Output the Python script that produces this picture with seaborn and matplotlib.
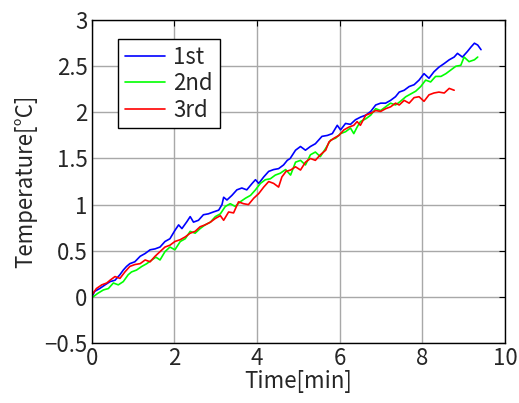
import numpy as np
import pandas as pd
import matplotlib
matplotlib.use('Agg')
import matplotlib.pyplot as plt
import seaborn as sns

# ---- data ----
t1 = [0.00, 0.07, 0.19, 0.32, 0.44, 0.56, 0.68, 0.76, 0.84, 0.92, 1.04, 1.17, 1.29, 1.41,
      1.53, 1.65, 1.77, 1.89, 2.01, 2.10, 2.18, 2.30, 2.38, 2.46, 2.58, 2.70, 2.82, 2.94,
      3.07, 3.15, 3.19, 3.27, 3.39, 3.51, 3.63, 3.75, 3.88, 3.96, 4.04, 4.16, 4.28, 4.40,
      4.52, 4.64, 4.73, 4.80, 4.93, 5.05, 5.17, 5.29, 5.41, 5.49, 5.57, 5.70, 5.82, 5.94,
      6.02, 6.14, 6.26, 6.38, 6.51, 6.63, 6.75, 6.87, 6.99, 7.11, 7.23, 7.35, 7.44, 7.56,
      7.68, 7.80, 7.92, 8.04, 8.16, 8.28, 8.40, 8.53, 8.65, 8.77, 8.85, 8.97, 9.09, 9.18,
      9.26, 9.34, 9.42]
v1 = [0.00, 0.06, 0.09, 0.13, 0.165, 0.18, 0.24, 0.29, 0.33, 0.36, 0.38, 0.44, 0.47, 0.51,
      0.52, 0.54, 0.60, 0.63, 0.72, 0.78, 0.74, 0.815, 0.87, 0.81, 0.83, 0.89, 0.90, 0.92,
      0.94, 1.00, 1.08, 1.05, 1.10, 1.16, 1.18, 1.16, 1.23, 1.27, 1.23, 1.30, 1.36, 1.38,
      1.39, 1.43, 1.48, 1.50, 1.59, 1.63, 1.59, 1.63, 1.66, 1.70, 1.74, 1.75, 1.77, 1.86,
      1.81, 1.88, 1.87, 1.92, 1.95, 1.97, 2.01, 2.08, 2.10, 2.10, 2.13, 2.17, 2.22, 2.24,
      2.28, 2.30, 2.35, 2.42, 2.37, 2.44, 2.49, 2.53, 2.57, 2.60, 2.64, 2.60, 2.66, 2.71,
      2.75, 2.73, 2.68]

t2 = [0.03, 0.15, 0.28, 0.40, 0.52, 0.64, 0.76, 0.88, 0.96, 1.08, 1.21, 1.33, 1.45, 1.55,
      1.65, 1.77, 1.89, 2.01, 2.14, 2.26, 2.38, 2.50, 2.62, 2.74, 2.87, 2.99, 3.11, 3.23,
      3.35, 3.47, 3.59, 3.72, 3.84, 3.96, 4.08, 4.20, 4.32, 4.44, 4.56, 4.69, 4.81, 4.93,
      5.05, 5.17, 5.29, 5.41, 5.53, 5.66, 5.78, 5.90, 6.02, 6.14, 6.26, 6.34, 6.42, 6.50,
      6.63, 6.75, 6.87, 6.99, 7.11, 7.23, 7.35, 7.47, 7.60, 7.72, 7.84, 7.96, 8.08, 8.20,
      8.32, 8.45, 8.57, 8.69, 8.81, 8.93, 9.01, 9.13, 9.26, 9.34]
v2 = [0.00, 0.04, 0.075, 0.09, 0.15, 0.13, 0.165, 0.24, 0.27, 0.29, 0.33, 0.36, 0.40, 0.43,
      0.40, 0.49, 0.54, 0.51, 0.60, 0.63, 0.71, 0.69, 0.74, 0.78, 0.81, 0.87, 0.90, 0.98,
      1.01, 0.98, 1.03, 1.07, 1.10, 1.16, 1.23, 1.27, 1.28, 1.32, 1.34, 1.38, 1.32, 1.46,
      1.48, 1.43, 1.54, 1.57, 1.52, 1.61, 1.70, 1.72, 1.77, 1.79, 1.83, 1.77, 1.84, 1.90,
      1.93, 1.97, 2.04, 2.02, 2.06, 2.10, 2.08, 2.12, 2.17, 2.20, 2.23, 2.28, 2.35, 2.33,
      2.39, 2.39, 2.42, 2.46, 2.50, 2.51, 2.60, 2.55, 2.57, 2.60]

t3 = [0.00, 0.11, 0.24, 0.36, 0.44, 0.56, 0.68, 0.80, 0.92, 1.04, 1.17, 1.29, 1.41, 1.53,
      1.65, 1.77, 1.89, 2.01, 2.14, 2.26, 2.38, 2.50, 2.62, 2.74, 2.87, 2.99, 3.11, 3.19,
      3.31, 3.43, 3.55, 3.67, 3.79, 3.92, 4.04, 4.16, 4.28, 4.40, 4.52, 4.60, 4.70, 4.81,
      4.93, 5.05, 5.17, 5.29, 5.41, 5.53, 5.66, 5.74, 5.86, 5.98, 6.10, 6.22, 6.34, 6.42,
      6.50, 6.63, 6.75, 6.87, 6.99, 7.11, 7.23, 7.35, 7.44, 7.56, 7.68, 7.80, 7.92, 8.04,
      8.16, 8.28, 8.40, 8.53, 8.65, 8.77]
v3 = [0.02, 0.09, 0.13, 0.15, 0.18, 0.22, 0.20, 0.27, 0.33, 0.35, 0.36, 0.40, 0.38, 0.44,
      0.49, 0.54, 0.56, 0.60, 0.62, 0.65, 0.69, 0.71, 0.76, 0.78, 0.81, 0.85, 0.88, 0.83,
      0.92, 0.91, 1.03, 1.01, 1.00, 1.07, 1.12, 1.19, 1.25, 1.23, 1.19, 1.30, 1.36, 1.375,
      1.41, 1.375, 1.46, 1.50, 1.48, 1.54, 1.59, 1.68, 1.72, 1.75, 1.81, 1.84, 1.86, 1.90,
      1.86, 1.97, 1.99, 2.02, 2.01, 2.04, 2.06, 2.10, 2.08, 2.13, 2.10, 2.16, 2.17, 2.12,
      2.19, 2.21, 2.22, 2.21, 2.26, 2.24]

labels = ['1st', '2nd', '3rd']
colors = ['#0000ff', '#00ff00', '#ff0000']
yticks = [-0.5, 0, 0.5, 1, 1.5, 2, 2.5, 3]
ytick_labels = ['\u22120.5', '0', '0.5', '1', '1.5', '2', '2.5', '3']
xticks = [0, 2, 4, 6, 8, 10]

# ---- build table ----
df = pd.concat([
    pd.DataFrame({'Time': t, 'Temp': v, 'Run': lab})
    for t, v, lab in zip([t1, t2, t3], [v1, v2, v3], labels)
], ignore_index=True)

sns.set_style('white')
plt.rcParams['font.family'] = ['Noto Sans CJK JP', 'DejaVu Sans']

FS = 16

fig = plt.figure(figsize=(5.19, 4.03), dpi=100)
ax = fig.add_axes([0.177, 0.149, 0.796, 0.801])

sns.lineplot(data=df, x='Time', y='Temp', hue='Run',
             palette=dict(zip(labels, colors)), estimator=None, sort=False,
             lw=1.2, ax=ax)

ax.set_xlim(0, 10)
ax.set_ylim(-0.5, 3)
ax.set_xticks(xticks)
ax.set_xticklabels([str(x) for x in xticks])
ax.set_yticks(yticks)
ax.set_yticklabels(ytick_labels)
ax.grid(True, color='#a8a8a8', lw=1.0)
ax.set_axisbelow(True)
ax.tick_params(direction='in', top=True, right=True, length=4, width=0.8,
               labelsize=FS, color='black', pad=3)
for s in ax.spines.values():
    s.set_color('black')
    s.set_linewidth(1.0)

ax.set_xlabel('Time[min]', fontsize=FS, labelpad=0)
ax.set_ylabel('Temperature[°C]', fontsize=FS, labelpad=5)

leg = ax.legend(loc='upper left', bbox_to_anchor=(0.063, 0.941), borderaxespad=0,
                fontsize=FS, frameon=True, fancybox=False, framealpha=1,
                edgecolor='black', handlelength=1.8, handletextpad=0.4,
                labelspacing=0.15, borderpad=0.3)
leg.get_frame().set_linewidth(1.0)

fig.savefig('out.png', dpi=100)
